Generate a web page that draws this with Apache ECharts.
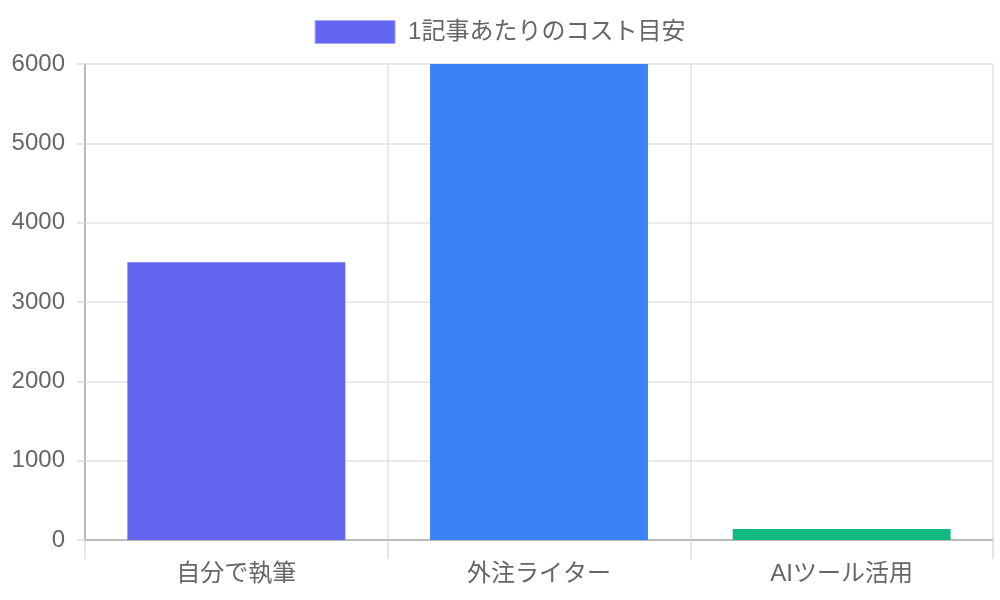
<!DOCTYPE html>
<html><head><meta charset="utf-8">
<script src="https://cdn.jsdelivr.net/npm/echarts@6/dist/echarts.min.js"></script>
<style>html,body{margin:0;padding:0;background:#fff}#c{width:1000px;height:600px}</style>
</head><body><div id="c"></div>
<script>
const categories = ['自分で執筆', '外注ライター', 'AIツール活用'];
const values = [3500, 6000, 140];
const barColors = ['#6366f1', '#3b82f6', '#10b981'];
const seriesName = '1記事あたりのコスト目安';
const FONT = '"Liberation Sans", "Noto Sans CJK JP", sans-serif';

const chart = echarts.init(document.getElementById('c'));
chart.setOption({
  animation: false,
  textStyle: { fontFamily: FONT },
  legend: {
    top: 15, left: 'center',
    itemWidth: 80, itemHeight: 23, itemGap: 10,
    icon: 'rect',
    textStyle: { fontSize: 24, color: '#666', fontFamily: FONT, padding: [0, 0, 0, 8] },
    data: [{ name: seriesName, itemStyle: { color: barColors[0], borderColor: '#a9abf7', borderWidth: 1 } }]
  },
  grid: { left: 85, right: 7, top: 64, bottom: 60, containLabel: false },
  xAxis: {
    type: 'category', data: categories, boundaryGap: true,
    axisLine: { show: true, lineStyle: { color: '#aaa', width: 1.5 } },
    axisTick: { show: true, length: 19, alignWithLabel: false, lineStyle: { color: '#ddd', width: 1.5 } },
    splitLine: { show: true, lineStyle: { color: '#e3e3e3', width: 1.5 } },
    axisLabel: { fontSize: 24, color: '#666', margin: 22, fontFamily: FONT }
  },
  yAxis: {
    type: 'value', min: 0, max: 6000, interval: 1000,
    axisLine: { show: true, lineStyle: { color: '#aaa', width: 1.5 } },
    axisTick: { show: true, length: 8, lineStyle: { color: '#ddd', width: 1.5 } },
    splitLine: { show: true, lineStyle: { color: '#e3e3e3', width: 1.5 } },
    axisLabel: { fontSize: 24, color: '#666', margin: 20, fontFamily: FONT, formatter: v => String(v) }
  },
  series: [{
    name: seriesName, type: 'bar', barCategoryGap: '28%',
    data: values.map((v, i) => ({ value: v, itemStyle: { color: barColors[i] } }))
  }]
});
</script></body></html>
